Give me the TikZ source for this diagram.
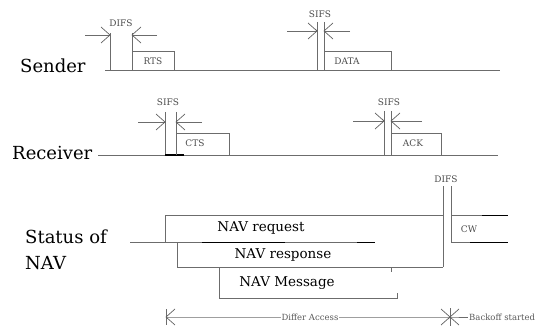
\documentclass[tikz,border=0pt]{standalone}
\usepackage{fontspec}
\setmainfont{DejaVu Serif}
\usetikzlibrary{arrows.meta}
\begin{document}
\begin{tikzpicture}[x=1pt,y=-1pt,
  ln/.style={draw=gray!85!black, line width=0.8pt},
  bb/.style={draw=gray!75!black, line width=0.7pt},
  dk/.style={draw=black, line width=1pt},
  small/.style={font=\fontsize{9}{10}\selectfont, text=gray!60!black, inner sep=0pt},
  tiny/.style={font=\fontsize{8.5}{9}\selectfont, text=gray!70!black, inner sep=0pt},
  big/.style={font=\fontsize{18}{20}\selectfont, inner sep=0pt, anchor=west},
  navtxt/.style={font=\fontsize{13.5}{15}\selectfont, inner sep=0pt},
  rbarb/.pic={\draw[bb] (-9,-8) -- (0,0) -- (-9,8) (-2,-2) -- (0,0) -- (-2,2);},
  lbarb/.pic={\draw[bb] (9,-8) -- (0,0) -- (9,8);},
]
\useasboundingbox (0,0) rectangle (538,326);
% ---------------- Sender ----------------
\node[big] (snd) at (20,66) {Sender};
\draw[ln] (105,70) -- (500,70);
\draw[ln] (110,33) -- (110,70);
\draw[ln] (132,33) -- (132,70);
\draw[ln] (132,70) |- (174,51) -- (174,70);
\node[small] (rts) at (153,61) {RTS};
\node[small] (difsA) at (121,23) {DIFS};
\coordinate (dA1) at (85,35);  \coordinate (dA2) at (110,35);
\coordinate (dA3) at (157,35); \coordinate (dA4) at (132,35);
\draw[ln] (dA1) -- (dA2);
\draw[ln] (dA3) -- (dA4);
\pic at (dA2) {rbarb};
\pic at (dA4) {lbarb};
% SIFS / DATA
\draw[ln] (317,22) -- (317,70);
\draw[ln] (324,22) -- (324,70);
\draw[ln] (324,70) |- (391,51) -- (391,70);
\node[small] (sifsA) at (320,14) {SIFS};
\node[small] (data) at (347,61) {DATA};
\coordinate (sA1) at (287,31); \coordinate (sA2) at (317,31);
\coordinate (sA3) at (350,31); \coordinate (sA4) at (324,31);
\draw[ln] (sA1) -- (sA2);
\draw[ln] (sA3) -- (sA4);
\pic at (sA2) {rbarb};
\pic at (sA4) {lbarb};
% ---------------- Receiver ----------------
\node[big] (rcv) at (12,153) {Receiver};
\draw[ln] (98,155) -- (498,155);
\draw[ln] (165,112) -- (165,155);
\draw[ln] (176,112) -- (176,155);
\draw[dk] (165,155) -- (184,155);
\draw[ln] (176,155) |- (229,133) -- (229,155);
\node[small] (sifsB) at (168,102) {SIFS};
\node[small] (cts) at (195,143) {CTS};
\coordinate (sB1) at (138,122); \coordinate (sB2) at (165,122);
\coordinate (sB3) at (202,122); \coordinate (sB4) at (176,122);
\draw[ln] (sB1) -- (sB2);
\draw[ln] (sB3) -- (sB4);
\pic at (sB2) {rbarb};
\pic at (sB4) {lbarb};
\draw[ln] (384,111) -- (384,155);
\draw[ln] (391,111) -- (391,155);
\draw[ln] (391,155) |- (441,133) -- (441,155);
\node[small] (sifsC) at (389,102) {SIFS};
\node[small] (ack) at (413,143) {ACK};
\coordinate (sC1) at (353,121); \coordinate (sC2) at (384,121);
\coordinate (sC3) at (422,121); \coordinate (sC4) at (391,121);
\draw[ln] (sC1) -- (sC2);
\draw[ln] (sC3) -- (sC4);
\pic at (sC2) {rbarb};
\pic at (sC4) {lbarb};
% ---------------- Status of NAV ----------------
\node[big] (stat1) at (25,237) {Status of};
\node[big] (stat2) at (25,263) {NAV};
\draw[ln] (130,242) -- (375,242);
\draw[dk] (202,242) -- (285,242);
\draw[dk] (357,242) -- (375,242);
\draw[ln] (165,242) -- (165,215) -- (443,215);
\draw[ln] (177,242) -- (177,267) -- (443,267);
\draw[ln] (219,267) -- (219,298) -- (397,298) -- (397,293);
\draw[ln] (391,267) -- (391,272);
\draw[ln] (443,186) -- (443,267);
\draw[ln] (451,186) -- (451,242);
\draw[ln] (451,215) -- (508,215);
\draw[ln] (451,242) -- (508,242);
\draw[dk] (482,215) -- (508,215);
\draw[dk] (470,242) -- (508,242);
\node[small] (difsB) at (446,179) {DIFS};
\node[small] (cw) at (469,229) {CW};
\node[navtxt] (navreq) at (261,228) {NAV request};
\node[navtxt] (navresp) at (283,255) {NAV response};
\node[navtxt] (navmsg) at (287,283) {NAV Message};
% ---------------- Differ access ----------------
\coordinate (da0) at (166,317);
\coordinate (da1) at (450,317);
\coordinate (da2) at (468,317);
\draw[ln] (da0) -- (da1) -- (da2);
\node[tiny, fill=white, inner xsep=1pt] (differ) at (310,317) {Differ Access};
\node[tiny, anchor=west] (backoff) at (469,317) {Backoff started};
\draw[ln] (166,309) -- (166,325);
\pic at (da0) {lbarb};
\draw[ln] (450,308) -- (450,326);
\pic at (da1) {rbarb};
\pic at (da1) {lbarb};
\end{tikzpicture}
\end{document}
